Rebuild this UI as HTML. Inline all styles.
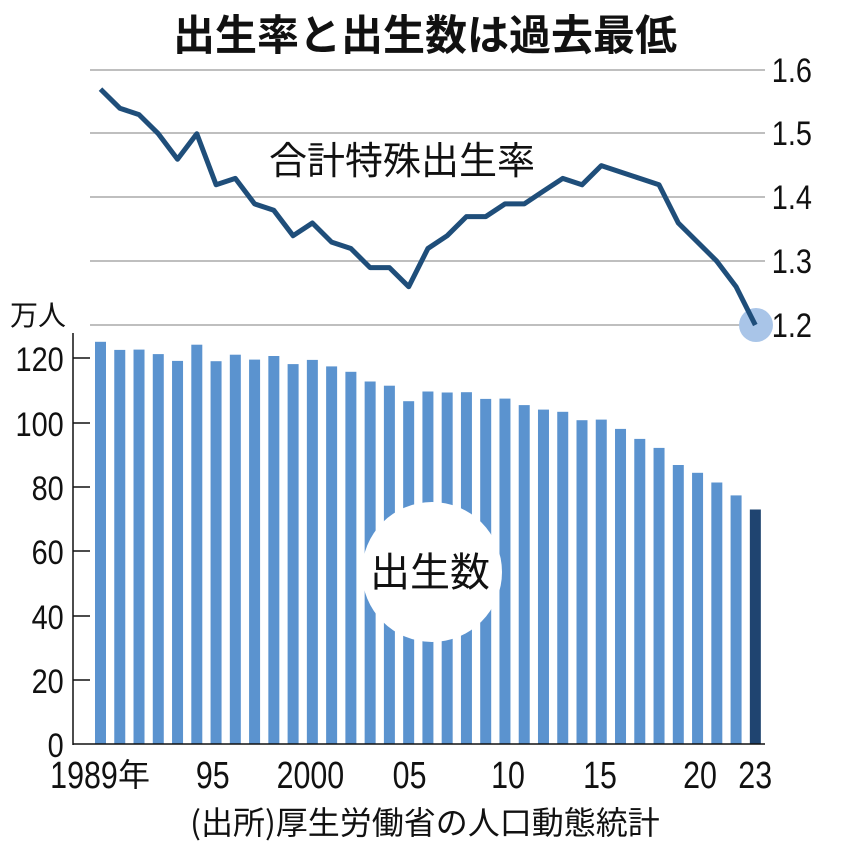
<!DOCTYPE html>
<html><head><meta charset="utf-8"><style>body{margin:0;background:#fff}svg{display:block}</style></head>
<body>
<svg width="850" height="848" xmlns="http://www.w3.org/2000/svg" font-family="'Liberation Sans','Noto Sans CJK JP',sans-serif">
<text x="425" y="50" text-anchor="middle" font-size="42" font-weight="bold" fill="#111" font-family="'Noto Sans CJK JP',sans-serif">出生率と出生数は過去最低</text>
<g stroke="#999" stroke-width="1.3">
<line x1="90" y1="70" x2="765" y2="70"/><line x1="90" y1="133" x2="765" y2="133"/><line x1="90" y1="197" x2="765" y2="197"/><line x1="90" y1="261" x2="765" y2="261"/><line x1="90" y1="325" x2="765" y2="325"/>
</g>
<g font-size="34" fill="#111" transform="scale(0.85,1)">
<text x="908" y="82">1.6</text><text x="908" y="145">1.5</text><text x="908" y="209">1.4</text><text x="908" y="273">1.3</text><text x="908" y="337">1.2</text>
</g>
<g fill="#5b93cf">
<rect x="95" y="341.8" width="11" height="402.2"/>
<rect x="114.26" y="349.9" width="11" height="394.1"/>
<rect x="133.52" y="349.6" width="11" height="394.4"/>
<rect x="152.78" y="354.1" width="11" height="389.9"/>
<rect x="172.04" y="360.9" width="11" height="383.1"/>
<rect x="191.3" y="344.7" width="11" height="399.3"/>
<rect x="210.56" y="361.2" width="11" height="382.8"/>
<rect x="229.82" y="354.7" width="11" height="389.3"/>
<rect x="249.08" y="359.6" width="11" height="384.4"/>
<rect x="268.34" y="356.0" width="11" height="388.0"/>
<rect x="287.6" y="364.1" width="11" height="379.9"/>
<rect x="306.86" y="359.9" width="11" height="384.1"/>
<rect x="326.12" y="366.4" width="11" height="377.6"/>
<rect x="345.38" y="371.8" width="11" height="372.2"/>
<rect x="364.64" y="381.5" width="11" height="362.5"/>
<rect x="383.9" y="385.7" width="11" height="358.3"/>
<rect x="403.16" y="401.2" width="11" height="342.8"/>
<rect x="422.42" y="391.5" width="11" height="352.5"/>
<rect x="441.68" y="392.5" width="11" height="351.5"/>
<rect x="460.94" y="392.2" width="11" height="351.8"/>
<rect x="480.2" y="398.9" width="11" height="345.1"/>
<rect x="499.46" y="398.6" width="11" height="345.4"/>
<rect x="518.72" y="405.1" width="11" height="338.9"/>
<rect x="537.98" y="409.6" width="11" height="334.4"/>
<rect x="557.24" y="411.8" width="11" height="332.2"/>
<rect x="576.5" y="420.2" width="11" height="323.8"/>
<rect x="595.76" y="419.6" width="11" height="324.4"/>
<rect x="615.02" y="428.9" width="11" height="315.1"/>
<rect x="634.28" y="438.9" width="11" height="305.1"/>
<rect x="653.54" y="447.9" width="11" height="296.1"/>
<rect x="672.8" y="465.0" width="11" height="279.0"/>
<rect x="692.06" y="472.8" width="11" height="271.2"/>
<rect x="711.32" y="482.5" width="11" height="261.5"/>
<rect x="730.58" y="495.4" width="11" height="248.6"/>
<rect x="749.84" y="509.5" width="11" height="234.5" fill="#1f4470"/>
</g>
<line x1="73" y1="333" x2="73" y2="745" stroke="#111" stroke-width="1.5"/>
<line x1="73" y1="744" x2="765" y2="744" stroke="#111" stroke-width="1.5"/>
<g stroke="#111" stroke-width="1.5">
<line x1="73" y1="358" x2="90" y2="358"/><line x1="73" y1="423" x2="90" y2="423"/><line x1="73" y1="487" x2="90" y2="487"/><line x1="73" y1="551" x2="90" y2="551"/><line x1="73" y1="616" x2="90" y2="616"/><line x1="73" y1="680" x2="90" y2="680"/>
</g>
<g font-size="34" fill="#111" text-anchor="end" transform="scale(0.85,1)">
<text x="75" y="371">120</text><text x="75" y="436">100</text><text x="75" y="500">80</text><text x="75" y="564">60</text><text x="75" y="629">40</text><text x="75" y="693">20</text><text x="75" y="757">0</text>
</g>
<text x="10" y="325" font-size="28" fill="#111" font-family="'Noto Sans CJK JP',sans-serif">万人</text>
<circle cx="432" cy="572" r="70" fill="#fff"/>
<text x="430" y="586" text-anchor="middle" font-size="40" fill="#111" font-family="'Noto Sans CJK JP',sans-serif">出生数</text>
<text x="402" y="174" text-anchor="middle" font-size="38" fill="#111" font-family="'Noto Sans CJK JP',sans-serif">合計特殊出生率</text>
<circle cx="756" cy="325" r="17" fill="#a9c5e8"/>
<polyline id="ln" fill="none" stroke="#1f4e7a" stroke-width="5" stroke-linejoin="round" points=""/>
<g font-size="38" fill="#111" text-anchor="middle" transform="scale(0.8,1)">
<text x="105" y="788">1989</text><text x="266" y="788">95</text><text x="388" y="788">2000</text><text x="512" y="788">05</text><text x="635" y="788">10</text><text x="750" y="788">15</text><text x="875" y="788">20</text><text x="944" y="788">23</text>
</g>
<text x="118" y="786" font-size="32" fill="#111" font-family="'Noto Sans CJK JP',sans-serif">年</text>
<text x="425" y="834" text-anchor="middle" font-size="32" fill="#111" font-family="'Noto Sans CJK JP',sans-serif">(出所)厚生労働省の人口動態統計</text>
<script>
var r=[1.57,1.54,1.53,1.50,1.46,1.50,1.42,1.43,1.39,1.38,1.34,1.36,1.33,1.32,1.29,1.29,1.26,1.32,1.34,1.37,1.37,1.39,1.39,1.41,1.43,1.42,1.45,1.44,1.43,1.42,1.36,1.33,1.30,1.26,1.20];
var p=[];
for(var i=0;i<35;i++){var x=95+i*19.26;p.push((x+5.5).toFixed(1)+','+(325-(r[i]-1.2)*637.5).toFixed(1));}
document.getElementById('ln').setAttribute('points',p.join(' '));
</script>
</svg>
</body></html>
